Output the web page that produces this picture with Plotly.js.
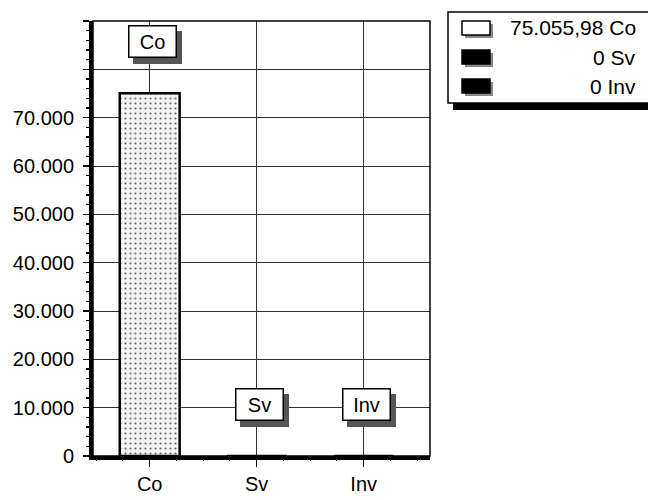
<!DOCTYPE html>
<html>
<head>
<meta charset="utf-8">
<script src="https://cdn.plot.ly/plotly-3.0.1.min.js"></script>
<style>html,body{margin:0;padding:0;background:#fff;}#chart{width:648px;height:500px;}</style>
</head>
<body>
<div id="chart"></div>
<script>
// ---- data ----
const categories = ['Co', 'Sv', 'Inv'];
const values = [75055.98, 0, 0];
const barColors = ['#f3f3f3', '#000000', '#000000'];
const yTickValues = [0, 10000, 20000, 30000, 40000, 50000, 60000, 70000, 80000, 90000];
const yTickLabels = ['0', '10.000', '20.000', '30.000', '40.000', '50.000', '60.000', '70.000', '', ''];

// European number format: 75055.98 -> "75.055,98"
function fmt(v) {
  const r = Math.round(v * 100) / 100;
  let parts = r.toString().split('.');
  let i = parts[0].replace(/\B(?=(\d{3})+(?!\d))/g, '.');
  if (parts.length > 1) {
    let d = parts[1].length === 1 ? parts[1] + '0' : parts[1];
    return i + ',' + d;
  }
  return i;
}

const FONT = 'Liberation Sans, Arial, sans-serif';

const traces = categories.map((c, i) => ({
  type: 'bar',
  x: [c],
  y: [values[i]],
  width: 0.56,
  marker: {
    color: barColors[i],
    line: {color: '#000', width: 2.5},
    pattern: i === 0 ? {shape: '.', fgcolor: '#666', bgcolor: barColors[i], size: 5, solidity: 0.15} : undefined
  },
  hoverinfo: 'skip',
  showlegend: false
}));
// helper trace for the minor-tick axis
traces.push({type: 'scatter', x: [], y: [], xaxis: 'x2', yaxis: 'y', hoverinfo: 'skip', showlegend: false});

// plot geometry (pixels) to convert legend positions to paper coords
const PL = 93, PR = 430, PT = 21, PB = 456;
const px = x => (x - PL) / (PR - PL);
const py = y => (PB - y) / (PB - PT);

const annotations = [];
const labelOffset = 10700;
categories.forEach((c, i) => {
  // shadow box
  annotations.push({
    x: c, y: values[i] + labelOffset, xref: 'x', yref: 'y', showarrow: false,
    text: '\u00a0', font: {family: FONT, size: 20, color: '#555'},
    bgcolor: '#555', bordercolor: '#555', borderwidth: 1.5, borderpad: 1,
    width: 44, height: 28, xshift: 8, yshift: -6
  });
  annotations.push({
    x: c, y: values[i] + labelOffset, xref: 'x', yref: 'y', showarrow: false,
    text: c, font: {family: FONT, size: 20, color: '#000'},
    bgcolor: '#fff', bordercolor: '#000', borderwidth: 1.5, borderpad: 1,
    width: 44, height: 28, xshift: 3
  });
});

const rowY = [28, 57, 86];
const shapes = [
  // plot frame
  {type: 'rect', xref: 'paper', yref: 'paper', x0: 0, x1: 1, y0: 0, y1: 1, line: {color: '#000', width: 1.5}, layer: 'above'},
  // legend shadow + box
  {type: 'rect', xref: 'paper', yref: 'paper', x0: px(453), x1: px(660), y0: py(110), y1: py(18), fillcolor: '#000', line: {width: 0}},
  {type: 'rect', xref: 'paper', yref: 'paper', x0: px(448), x1: px(660), y0: py(103), y1: py(12), fillcolor: '#fff', line: {color: '#000', width: 1.5}}
];
categories.forEach((c, i) => {
  shapes.push({type: 'rect', xref: 'paper', yref: 'paper', x0: px(465), x1: px(493), y0: py(rowY[i] + 10), y1: py(rowY[i] - 4), fillcolor: '#888', line: {width: 0}});
  shapes.push({type: 'rect', xref: 'paper', yref: 'paper', x0: px(462), x1: px(490), y0: py(rowY[i] + 7), y1: py(rowY[i] - 7), fillcolor: i === 0 ? '#fff' : barColors[i], line: {color: '#000', width: 1.5}});
  annotations.push({
    xref: 'paper', yref: 'paper', x: px(638), y: py(rowY[i]), xanchor: 'right', yanchor: 'middle',
    showarrow: false, text: fmt(values[i]) + ' ' + c, font: {family: FONT, size: 21, color: '#000'}
  });
});

const layout = {
  width: 648, height: 500,
  margin: {l: PL, r: 648 - PR, t: PT, b: 500 - PB},
  paper_bgcolor: '#fff', plot_bgcolor: '#fff',
  font: {family: FONT, size: 20, color: '#000'},
  barmode: 'overlay',
  xaxis: {
    type: 'category', categoryorder: 'array', categoryarray: categories,
    range: [-0.53, 2.62],
    showgrid: true, gridcolor: '#333', gridwidth: 1,
    ticks: 'outside', ticklen: 7, tickwidth: 1.5, tickcolor: '#000',
    showline: true, linecolor: '#000', linewidth: 4,
    zeroline: false, ticklabelstandoff: 0,
    tickfont: {family: FONT, size: 20, color: '#000'}
  },
  xaxis2: {
    overlaying: 'x', side: 'bottom', range: [-0.53, 2.62],
    tickmode: 'linear', tick0: 0, dtick: 0.25,
    ticks: 'outside', ticklen: 4, tickwidth: 1, tickcolor: '#000',
    showticklabels: false, showgrid: false, showline: false, zeroline: false
  },
  yaxis: {
    range: [0, 90000],
    tickmode: 'array', tickvals: yTickValues, ticktext: yTickLabels,
    showgrid: true, gridcolor: '#333', gridwidth: 1,
    ticks: 'outside', ticklen: 6, tickwidth: 1.5, tickcolor: '#000',
    showline: true, linecolor: '#000', linewidth: 4,
    zeroline: false, ticklabelstandoff: 5,
    tickfont: {family: FONT, size: 20, color: '#000'},
    minor: {tickmode: 'linear', tick0: 0, dtick: 2000, ticks: 'outside', ticklen: 3, tickcolor: '#000', showgrid: false}
  },
  shapes: shapes,
  annotations: annotations
};

Plotly.newPlot('chart', traces, layout, {staticPlot: true, displayModeBar: false});
</script>
</body>
</html>
